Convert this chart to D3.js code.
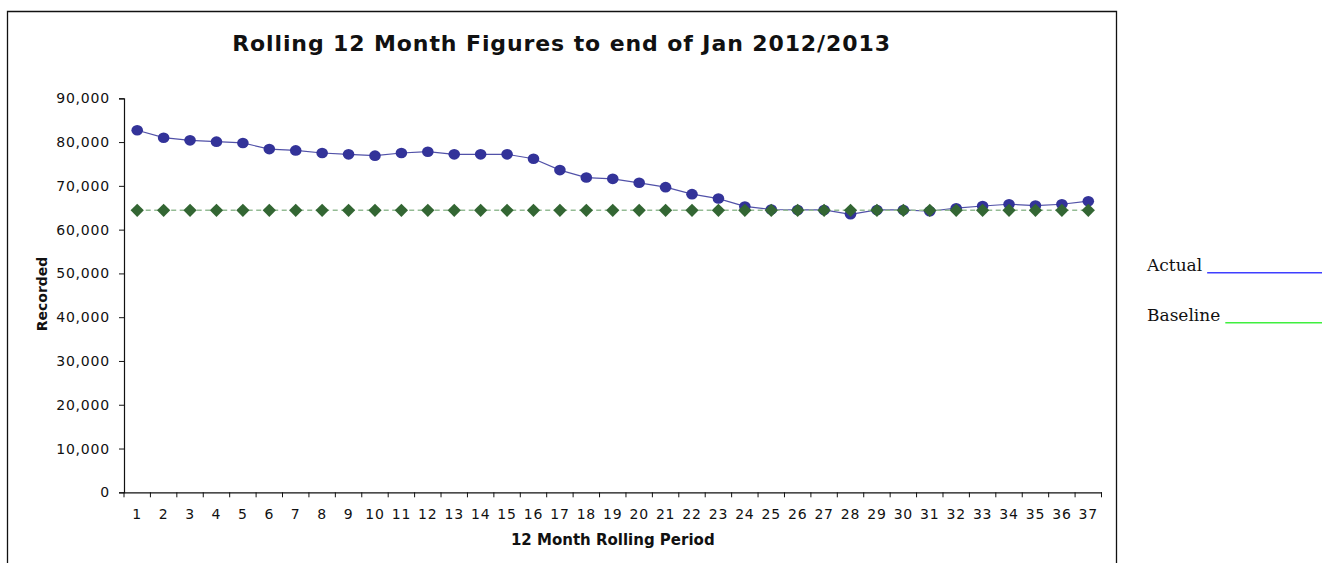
<!DOCTYPE html>
<html>
<head>
<meta charset="utf-8">
<script src="https://cdnjs.cloudflare.com/ajax/libs/d3/7.8.5/d3.min.js"></script>
<style>
  body { margin: 0; background: #fff; }
  svg { display: block; }
  .tick-label { font-family: 'DejaVu Sans', Verdana, sans-serif; font-size: 14px; letter-spacing: 0.8px; fill: #111; }
  .axis-title { font-family: 'DejaVu Sans', Verdana, sans-serif; font-weight: bold; fill: #111; }
  .legend-label { font-family: 'DejaVu Serif', Cambria, serif; font-size: 17px; fill: #111; }
</style>
</head>
<body>
<div id="chart"></div>
<script>
'use strict';

/*
------------------------------------------------------------
--- DATA
------------------------------------------------------------
*/

var periods = ['1', '2', '3', '4', '5', '6', '7', '8', '9', '10', '11', '12', '13', '14', '15', '16', '17', '18', '19',
  '20', '21', '22', '23', '24', '25', '26', '27', '28', '29', '30', '31', '32', '33', '34', '35', '36', '37'];

var actualValues = [82700, 81000, 80400, 80100, 79800, 78400, 78100, 77500, 77200, 76900, 77500, 77800, 77200,
  77200, 77200, 76200, 73600, 71900, 71600, 70700, 69700, 68100, 67100, 65300, 64600, 64500, 64500, 63500,
  64500, 64500, 64200, 64900, 65400, 65800, 65500, 65800, 66500];

var baselineValues = [64400, 64400, 64400, 64400, 64400, 64400, 64400, 64400, 64400, 64400, 64400, 64400, 64400,
  64400, 64400, 64400, 64400, 64400, 64400, 64400, 64400, 64400, 64400, 64400, 64400, 64400, 64400, 64400,
  64400, 64400, 64400, 64400, 64400, 64400, 64400, 64400, 64400];

var yTicks = [0, 10000, 20000, 30000, 40000, 50000, 60000, 70000, 80000, 90000];

var chartTitle = 'Rolling 12 Month Figures to end of Jan 2012/2013';
var xTitle = '12 Month Rolling Period';
var yTitle = 'Recorded';
var legendNames = ['Actual', 'Baseline'];


/*
------------------------------------------------------------
--- PROPERTIES
------------------------------------------------------------
*/

var width = 1329;
var height = 563;
var plot = {'left': 124, 'right': 1101.5, 'top': 98.3, 'bottom': 492.3}; // plot area edges
var actualColor = '#333399';
var baselineColor = '#336633';

var svg = d3.select('#chart').append('svg')
  .attr('width', width)
  .attr('height', height);

var x = d3.scaleBand()
  .domain(periods)
  .range([plot.left, plot.right]);

var y = d3.scaleLinear()
  .domain([0, 90000])
  .range([plot.bottom, plot.top]);


/*
------------------------------------------------------------
--- DRAW
------------------------------------------------------------
*/

// chart frame (bottom edge is off the picture)
svg.append('path')
  .attr('d', 'M 7.5 ' + height + ' L 7.5 11.5 L 1116.5 11.5 L 1116.5 ' + height)
  .attr('fill', 'none')
  .attr('stroke', '#111')
  .attr('stroke-width', 1.3);

// title
svg.append('text')
  .attr('class', 'axis-title')
  .attr('x', 561.5)
  .attr('y', 50.5)
  .attr('text-anchor', 'middle')
  .style('font-size', '22px')
  .style('letter-spacing', '0.9px')
  .text(chartTitle);

// y axis
var yAxis = svg.append('g')
  .attr('transform', 'translate(' + plot.left + ',0)')
  .call(d3.axisLeft(y).tickValues(yTicks).tickSize(5).tickPadding(9).tickFormat(d3.format(',')));

// x axis, ticks sit on the category edges
var xAxis = svg.append('g')
  .attr('transform', 'translate(0,' + plot.bottom + ')')
  .call(d3.axisBottom(x).tickSize(0).tickPadding(17));

xAxis.selectAll('.tick')
  .append('line')
  .attr('x1', x.bandwidth() / 2)
  .attr('x2', x.bandwidth() / 2)
  .attr('y1', 0)
  .attr('y2', 5)
  .attr('stroke', '#111');

xAxis.append('line')
  .attr('x1', plot.left)
  .attr('x2', plot.left)
  .attr('y1', 0)
  .attr('y2', 5)
  .attr('stroke', '#111');

[xAxis, yAxis].forEach(function(axis) {
  axis.select('.domain').attr('stroke', '#111').attr('stroke-width', 1.2);
  axis.selectAll('.tick line').attr('stroke', '#111');
  axis.selectAll('.tick text')
    .attr('class', 'tick-label')
    .attr('fill', null);
  axis.attr('font-family', null).attr('font-size', null);
});

// axis titles
svg.append('text')
  .attr('class', 'axis-title')
  .attr('x', (plot.left + plot.right) / 2)
  .attr('y', 545)
  .attr('text-anchor', 'middle')
  .style('font-size', '15px')
  .text(xTitle);

svg.append('text')
  .attr('class', 'axis-title')
  .attr('transform', 'translate(47,294) rotate(-90)')
  .attr('text-anchor', 'middle')
  .style('font-size', '14px')
  .text(yTitle);

var cx = function(d, i) { return x(periods[i]) + x.bandwidth() / 2; };

// actual series
svg.append('path')
  .datum(actualValues)
  .attr('d', d3.line().x(cx).y(function(d) { return y(d); }))
  .attr('fill', 'none')
  .attr('stroke', actualColor)
  .attr('stroke-width', 1.2)
  .attr('stroke-opacity', 0.85);

svg.append('g').selectAll('ellipse')
  .data(actualValues)
  .enter().append('ellipse')
  .attr('cx', cx)
  .attr('cy', function(d) { return y(d); })
  .attr('rx', 5.8)
  .attr('ry', 5.3)
  .attr('fill', actualColor);

// baseline series
svg.append('path')
  .datum(baselineValues)
  .attr('d', d3.line().x(cx).y(function(d) { return y(d); }))
  .attr('fill', 'none')
  .attr('stroke', '#94bb94')
  .attr('stroke-width', 1.5)
  .attr('stroke-dasharray', '5,3.5');

svg.append('g').selectAll('path')
  .data(baselineValues)
  .enter().append('path')
  .attr('d', d3.symbol().type(d3.symbolSquare).size(88))
  .attr('transform', function(d, i) { return 'translate(' + cx(d, i) + ',' + y(d) + ') rotate(45)'; })
  .attr('fill', baselineColor);

// legend, written as text with coloured rules
var legend = svg.append('g');
var legendRows = [
  {'name': legendNames[0], 'y': 270.7, 'color': '#3f3fff'},
  {'name': legendNames[1], 'y': 320.7, 'color': '#3fef3f'}
];

legendRows.forEach(function(row) {
  var label = legend.append('text')
    .attr('class', 'legend-label')
    .attr('x', 1147)
    .attr('y', row.y)
    .text(row.name);
  var w = label.node().getComputedTextLength();
  legend.append('line')
    .attr('x1', 1147 + w + 5)
    .attr('x2', 1322)
    .attr('y1', row.y + 2)
    .attr('y2', row.y + 2)
    .attr('stroke', row.color)
    .attr('stroke-width', 1.4);
});
</script>
</body>
</html>
